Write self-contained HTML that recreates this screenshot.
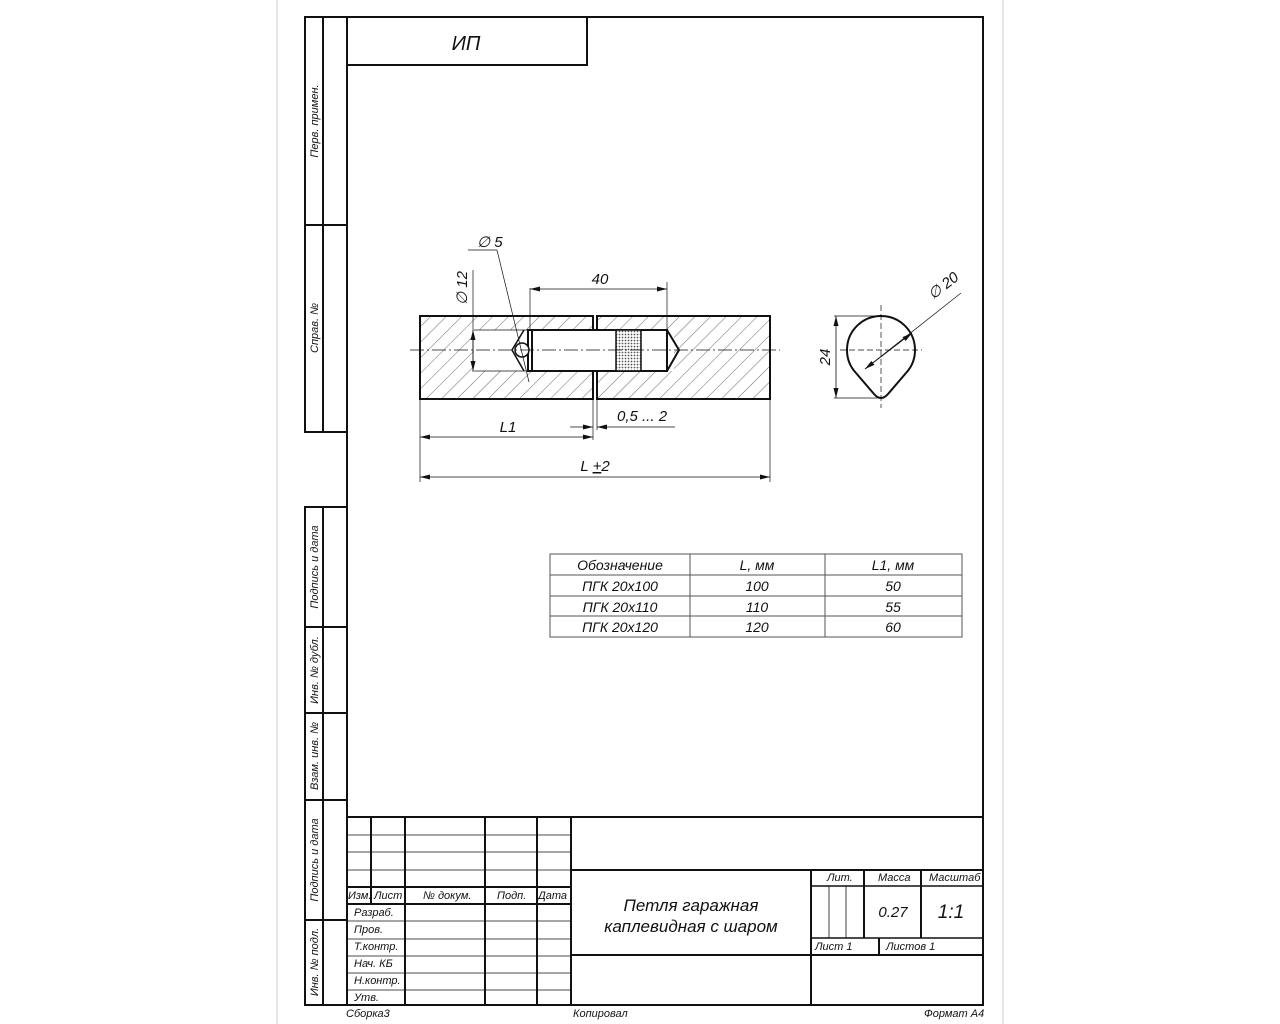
<!DOCTYPE html>
<html><head><meta charset="utf-8"><style>
body{margin:0;background:#fff;}
svg{display:block;}
text{font-family:"Liberation Sans",sans-serif;font-style:italic;fill:#111;}
</style></head><body>
<svg width="1280" height="1024" viewBox="0 0 1280 1024" xmlns="http://www.w3.org/2000/svg">
<defs>
<pattern id="h" patternUnits="userSpaceOnUse" width="11" height="11" patternTransform="rotate(45)">
<line x1="0" y1="0" x2="0" y2="11" stroke="#444" stroke-width="0.8"/></pattern>
<pattern id="k" patternUnits="userSpaceOnUse" width="3" height="3">
<rect width="3" height="3" fill="#fff"/><circle cx="1.5" cy="1.5" r="0.9" fill="#555"/></pattern>
<marker id="a" markerWidth="10" markerHeight="6" refX="10" refY="3" orient="auto-start-reverse" markerUnits="userSpaceOnUse"><path d="M0,0.5 L10,3 L0,5.5z" fill="#111"/></marker>
</defs>
<rect x="0" y="0" width="1280" height="1024" fill="#fff"/>
<line x1="277" y1="0" x2="277" y2="1024" stroke="#ccc" stroke-width="1"/>
<line x1="1003" y1="0" x2="1003" y2="1024" stroke="#ccc" stroke-width="1"/>
<g stroke="#111" fill="none" stroke-width="2">
<rect x="347" y="17" width="636" height="988"/>
<rect x="347" y="17" width="240" height="48"/>
<rect x="305" y="17" width="18" height="415"/>
<line x1="323" y1="17" x2="347" y2="17"/><line x1="323" y1="432" x2="347" y2="432"/>
<line x1="305" y1="225" x2="347" y2="225"/>
<rect x="305" y="507" width="18" height="498"/>
<line x1="323" y1="507" x2="347" y2="507"/>
<line x1="305" y1="627" x2="347" y2="627"/><line x1="305" y1="713" x2="347" y2="713"/>
<line x1="305" y1="800" x2="347" y2="800"/><line x1="305" y1="920" x2="347" y2="920"/>
<line x1="323" y1="1005" x2="347" y2="1005"/>
</g>
<g font-size="11">
<text transform="translate(318,121) rotate(-90)" text-anchor="middle">Перв. примен.</text>
<text transform="translate(318,328) rotate(-90)" text-anchor="middle">Справ. №</text>
<text transform="translate(318,567) rotate(-90)" text-anchor="middle">Подпись и дата</text>
<text transform="translate(318,670) rotate(-90)" text-anchor="middle">Инв. № дубл.</text>
<text transform="translate(318,756) rotate(-90)" text-anchor="middle">Взам. инв. №</text>
<text transform="translate(318,860) rotate(-90)" text-anchor="middle">Подпись и дата</text>
<text transform="translate(318,962) rotate(-90)" text-anchor="middle">Инв. № подл.</text>
</g>
<text x="466" y="50" font-size="20" text-anchor="middle">ИП</text>

<!-- main part -->
<rect x="420" y="316" width="173" height="83" fill="url(#h)"/>
<rect x="597" y="316" width="173" height="83" fill="url(#h)"/>
<rect x="474" y="330" width="200" height="41" fill="#fff"/>
<g stroke="#111" fill="none">
<rect x="420" y="316" width="173" height="83" stroke-width="2"/>
<rect x="597" y="316" width="173" height="83" stroke-width="2"/>
<line x1="474" y1="330" x2="528" y2="330" stroke-width="0.8"/>
<line x1="474" y1="371" x2="528" y2="371" stroke-width="0.8"/>
<rect x="528" y="330" width="139" height="41" stroke-width="2" fill="#fff"/>
<rect x="616" y="330" width="25" height="41" stroke-width="1.5" fill="url(#k)"/>
<path d="M667,330 L679,350 L667,371" stroke-width="2"/>
<line x1="532" y1="330" x2="532" y2="371" stroke-width="2"/>
<path d="M524,330 L512,350 L524,371" stroke-width="1.5"/>
<circle cx="522" cy="350" r="7" stroke-width="1.5" fill="#fff"/>
<line x1="410" y1="350" x2="780" y2="350" stroke-width="0.8" stroke-dasharray="14,3,2,3"/>
<line x1="473" y1="270" x2="473" y2="372" stroke-width="0.7"/>
<line x1="473" y1="330" x2="473" y2="371" stroke-width="0.8" marker-start="url(#a)" marker-end="url(#a)"/>
<line x1="468" y1="250" x2="497" y2="250" stroke-width="0.7"/>
<line x1="497" y1="250" x2="529" y2="382" stroke-width="0.7"/>
<line x1="530" y1="288" x2="530" y2="330" stroke-width="0.7"/>
<line x1="667" y1="282" x2="667" y2="330" stroke-width="0.7"/>
<line x1="530" y1="289" x2="667" y2="289" stroke-width="0.8" marker-start="url(#a)" marker-end="url(#a)"/>
<line x1="420" y1="399" x2="420" y2="482" stroke-width="0.7"/>
<line x1="770" y1="399" x2="770" y2="482" stroke-width="0.7"/>
<line x1="593" y1="399" x2="593" y2="440" stroke-width="0.7"/>
<line x1="597" y1="399" x2="597" y2="430" stroke-width="0.7"/>
<line x1="420" y1="437" x2="593" y2="437" stroke-width="0.8" marker-start="url(#a)" marker-end="url(#a)"/>
<line x1="570" y1="427" x2="593" y2="427" stroke-width="0.8" marker-end="url(#a)"/>
<line x1="597" y1="427" x2="675" y2="427" stroke-width="0.8" marker-start="url(#a)"/>
<line x1="420" y1="477" x2="770" y2="477" stroke-width="0.8" marker-start="url(#a)" marker-end="url(#a)"/>
</g>
<g font-size="15">
<text x="477" y="247">∅ 5</text>
<text transform="translate(467,288) rotate(-90)" text-anchor="middle">∅ 12</text>
<text x="600" y="284" text-anchor="middle">40</text>
<text x="508" y="432" text-anchor="middle">L1</text>
<text x="617" y="421">0,5 ... 2</text>
<text x="595" y="471" text-anchor="middle">L <tspan text-decoration="underline">+</tspan>2</text>
</g>

<!-- drop -->
<g stroke="#111" fill="none">
<path d="M856,373 A34,34 0 1 1 906,373 L888,394 Q881,402 874,394 Z" stroke-width="2"/>
<line x1="881" y1="305" x2="881" y2="408" stroke-width="0.7" stroke-dasharray="6,3"/>
<line x1="840" y1="350" x2="922" y2="350" stroke-width="0.7" stroke-dasharray="6,3"/>
<line x1="834" y1="316" x2="882" y2="316" stroke-width="0.7"/>
<line x1="834" y1="398" x2="882" y2="398" stroke-width="0.7"/>
<line x1="836" y1="316" x2="836" y2="398" stroke-width="0.8" marker-start="url(#a)" marker-end="url(#a)"/>
<line x1="865" y1="369" x2="961" y2="293" stroke-width="0.7"/>
<line x1="865" y1="369" x2="912" y2="333" stroke-width="0.8" marker-start="url(#a)" marker-end="url(#a)"/>
</g>
<text transform="translate(830,357) rotate(-90)" font-size="15" text-anchor="middle">24</text>
<text transform="translate(933,300) rotate(-38)" font-size="15">∅ 20</text>

<!-- table -->
<g stroke="#555" stroke-width="1" fill="none">
<rect x="550" y="554" width="412" height="83"/>
<line x1="550" y1="575" x2="962" y2="575"/><line x1="550" y1="596" x2="962" y2="596"/><line x1="550" y1="616" x2="962" y2="616"/>
<line x1="690" y1="554" x2="690" y2="637"/><line x1="825" y1="554" x2="825" y2="637"/>
</g>
<g font-size="14" text-anchor="middle">
<text x="620" y="570">Обозначение</text><text x="757" y="570">L, мм</text><text x="893" y="570">L1, мм</text>
<text x="620" y="591">ПГК 20х100</text><text x="757" y="591">100</text><text x="893" y="591">50</text>
<text x="620" y="612">ПГК 20х110</text><text x="757" y="612">110</text><text x="893" y="612">55</text>
<text x="620" y="632">ПГК 20х120</text><text x="757" y="632">120</text><text x="893" y="632">60</text>
</g>

<!-- title block -->
<g stroke="#111" fill="none" stroke-width="2">
<line x1="347" y1="817" x2="983" y2="817"/>
<line x1="571" y1="870" x2="983" y2="870"/>
<line x1="347" y1="887" x2="571" y2="887"/>
<line x1="347" y1="904" x2="571" y2="904"/>
<line x1="571" y1="955" x2="983" y2="955"/>
<line x1="811" y1="886" x2="983" y2="886" stroke-width="1.5"/>
<line x1="811" y1="938" x2="983" y2="938" stroke-width="1.5"/>
<line x1="371" y1="817" x2="371" y2="904"/>
<line x1="405" y1="817" x2="405" y2="1005"/>
<line x1="485" y1="817" x2="485" y2="1005"/>
<line x1="537" y1="817" x2="537" y2="1005"/>
<line x1="571" y1="817" x2="571" y2="1005"/>
<line x1="811" y1="870" x2="811" y2="1005"/>
<line x1="864" y1="870" x2="864" y2="938"/>
<line x1="921" y1="870" x2="921" y2="938"/>
<line x1="879" y1="938" x2="879" y2="955"/>
</g>
<g stroke="#111" fill="none" stroke-width="0.8">
<line x1="347" y1="835" x2="571" y2="835"/><line x1="347" y1="852" x2="571" y2="852"/><line x1="347" y1="870" x2="571" y2="870"/>
<line x1="347" y1="921" x2="571" y2="921"/><line x1="347" y1="939" x2="571" y2="939"/>
<line x1="347" y1="956" x2="571" y2="956"/><line x1="347" y1="973" x2="571" y2="973"/><line x1="347" y1="990" x2="571" y2="990"/>
<line x1="829" y1="886" x2="829" y2="938"/><line x1="846" y1="886" x2="846" y2="938"/>
</g>
<g font-size="11">
<text x="348" y="899">Изм.</text><text x="374" y="899">Лист</text><text x="423" y="899">№ докум.</text>
<text x="497" y="899">Подп.</text><text x="538" y="899">Дата</text>
<text x="354" y="916">Разраб.</text><text x="354" y="933">Пров.</text><text x="354" y="950">Т.контр.</text>
<text x="354" y="967">Нач. КБ</text><text x="354" y="984">Н.контр.</text><text x="354" y="1001">Утв.</text>
<text x="827" y="881">Лит.</text><text x="878" y="881">Масса</text><text x="929" y="881">Масштаб</text>
<text x="815" y="950">Лист 1</text><text x="886" y="950">Листов 1</text>
<text x="346" y="1017">Сборка3</text><text x="573" y="1017">Копировал</text><text x="924" y="1017">Формат А4</text>
</g>
<g font-size="17" text-anchor="middle">
<text x="691" y="911">Петля гаражная</text>
<text x="691" y="932">каплевидная с шаром</text>
</g>
<text x="893" y="917" font-size="15" text-anchor="middle">0.27</text>
<text x="951" y="918" font-size="19" text-anchor="middle">1:1</text>
</svg>
</body></html>
